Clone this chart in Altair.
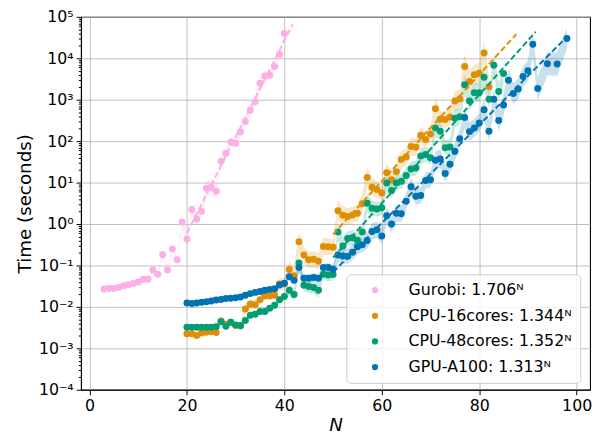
import altair as alt
import pandas as pd

# ---------------- data (times stored as log10 seconds) ----------------
labels = ["Gurobi: 1.706ᴺ", "CPU-16cores: 1.344ᴺ", "CPU-48cores: 1.352ᴺ", "GPU-A100: 1.313ᴺ"]
colors = ["#fbafe4", "#de8f05", "#029e73", "#0173b2"]

gurobi_n = list(range(3, 41))
gurobi_log_t = [-1.57, -1.556, -1.556, -1.532, -1.49, -1.468, -1.437, -1.397, -1.333, -1.333,
                -1.11, -1.21, -0.74, -1.11, -0.60, -0.865, 0.05, -0.365, 0.35, 0.12,
                0.31, 0.865, 0.89, 0.79, 1.516, 1.71, 1.98, 1.95, 2.22, 2.476,
                2.746, 2.95, 3.40, 3.57, 3.59, 3.80, 4.10, 4.60]
gurobi_band = [0.01, 0.01, 0.01, 0.01, 0.01, 0.01, 0.01, 0.01, 0.01, 0.01,
               0.05, 0.05, 0.08, 0.06, 0.10, 0.08, 0.15, 0.18, 0.15, 0.15,
               0.12, 0.20, 0.20, 0.18, 0.10, 0.12, 0.10, 0.10, 0.10, 0.10,
               0.10, 0.12, 0.15, 0.12, 0.10, 0.10, 0.08, 0.08]

cpu16_n = list(range(20, 83))
cpu16_log_t = [-2.65, -2.65, -2.69, -2.63, -2.61, -2.60, -2.62, -2.34, -2.42, -2.37,
               -2.45, -2.46, -2.05, -1.93, -1.95, -1.83, -1.73, -1.73, -1.72, -1.45,
               -1.45, -1.10, -1.25, -0.43, -0.75, -0.86, -0.85, -0.90, -0.54, -0.55,
               -0.56, 0.32, 0.21, 0.18, 0.22, 0.26, 0.49, 1.12, 0.89, 0.83,
               0.75, 1.24, 1.07, 1.26, 1.56, 1.62, 1.87, 1.85, 2.14, 2.04,
               2.17, 2.78, 2.53, 2.52, 2.58, 2.97, 3.02, 3.80, 3.44, 3.60,
               3.64, 4.13, 3.31]
cpu16_band = [0.04, 0.04, 0.05, 0.04, 0.04, 0.04, 0.05, 0.10, 0.08, 0.08,
              0.08, 0.08, 0.12, 0.10, 0.10, 0.10, 0.10, 0.10, 0.10, 0.15,
              0.15, 0.20, 0.20, 0.25, 0.20, 0.20, 0.20, 0.20, 0.20, 0.20,
              0.20, 0.25, 0.22, 0.20, 0.20, 0.20, 0.22, 0.25, 0.20, 0.20,
              0.18, 0.22, 0.20, 0.20, 0.22, 0.20, 0.22, 0.20, 0.22, 0.20,
              0.20, 0.25, 0.20, 0.20, 0.20, 0.25, 0.22, 0.30, 0.25, 0.25,
              0.25, 0.30, 0.25]

cpu48_n = list(range(20, 86))
cpu48_log_t = [-2.49, -2.49, -2.49, -2.49, -2.49, -2.49, -2.48, -2.36, -2.47, -2.37,
               -2.44, -2.45, -2.33, -2.20, -2.18, -2.11, -2.11, -2.03, -1.96, -1.83,
               -1.75, -1.60, -1.70, -0.94, -1.48, -1.51, -1.53, -1.60, -1.21, -1.23,
               -1.22, -0.19, -0.53, -0.35, -0.33, -0.39, -0.19, 0.50, 0.38, 0.36,
               0.39, 0.99, 0.81, 0.99, 1.03, 1.17, 1.33, 1.35, 1.64, 1.68,
               1.60, 2.32, 2.24, 1.84, 1.86, 2.55, 2.59, 3.36, 2.97, 3.17,
               3.17, 3.54, 3.01, 3.83, 3.20, 3.63]
cpu48_band = [0.03, 0.03, 0.03, 0.03, 0.03, 0.03, 0.03, 0.06, 0.06, 0.06,
              0.06, 0.06, 0.06, 0.06, 0.06, 0.06, 0.06, 0.06, 0.06, 0.08,
              0.08, 0.12, 0.15, 0.18, 0.15, 0.15, 0.15, 0.18, 0.15, 0.15,
              0.15, 0.20, 0.20, 0.18, 0.18, 0.18, 0.18, 0.22, 0.18, 0.18,
              0.18, 0.20, 0.18, 0.18, 0.18, 0.18, 0.18, 0.18, 0.20, 0.18,
              0.18, 0.22, 0.20, 0.18, 0.18, 0.22, 0.20, 0.25, 0.22, 0.22,
              0.22, 0.25, 0.22, 0.25, 0.22, 0.25]

gpu_n = list(range(20, 93)) + [94, 96, 98]
gpu_log_t = [-1.905, -1.92, -1.905, -1.89, -1.875, -1.86, -1.835, -1.82, -1.80, -1.79,
             -1.78, -1.76, -1.72, -1.68, -1.65, -1.63, -1.60, -1.58, -1.56, -1.47,
             -1.43, -1.27, -1.36, -1.05, -1.31, -1.31, -1.29, -1.31, -1.05, -1.05,
             -1.09, -0.75, -0.77, -0.78, -0.68, -0.55, -0.50, -0.40, -0.18, -0.14,
             -0.29, 0.20, 0.00, 0.26, 0.25, 0.55, 0.90, 0.67, 0.69, 1.05,
             1.07, 1.54, 1.57, 1.22, 1.44, 1.75, 2.06, 2.57, 2.23, 2.32,
             2.44, 2.76, 2.24, 3.01, 2.50, 2.87, 3.47, 3.15, 3.26, 3.56,
             3.70, 4.34, 3.27, 3.87, 3.86, 4.48]
gpu_band = [0.02, 0.02, 0.02, 0.02, 0.02, 0.02, 0.02, 0.02, 0.02, 0.02,
            0.02, 0.02, 0.02, 0.02, 0.02, 0.02, 0.02, 0.02, 0.03, 0.06,
            0.06, 0.10, 0.10, 0.12, 0.10, 0.10, 0.10, 0.10, 0.10, 0.10,
            0.10, 0.18, 0.18, 0.18, 0.18, 0.18, 0.18, 0.20, 0.20, 0.20,
            0.20, 0.20, 0.20, 0.20, 0.20, 0.20, 0.22, 0.20, 0.20, 0.20,
            0.20, 0.22, 0.22, 0.20, 0.20, 0.22, 0.22, 0.25, 0.22, 0.22,
            0.22, 0.25, 0.25, 0.25, 0.25, 0.25, 0.28, 0.25, 0.25, 0.25,
            0.25, 0.30, 0.28, 0.28, 0.28, 0.25]

# dashed exponential fits: end points (N, log10 seconds)
fit_n = [[20, 41.7], [50, 87.6], [50, 91.6], [50, 98]]
fit_log_t = [[-0.22, 4.82], [-0.25, 4.58], [-0.81, 4.64], [-1.16, 4.52]]

# ---------------- tables ----------------
series = [(gurobi_n, gurobi_log_t, gurobi_band),
          (cpu16_n, cpu16_log_t, cpu16_band),
          (cpu48_n, cpu48_log_t, cpu48_band),
          (gpu_n, gpu_log_t, gpu_band)]
rows = []
for lab, (ns, lt, bw) in zip(labels, series):
    for n, v, w in zip(ns, lt, bw):
        rows.append({"label": lab, "N": n, "t": 10 ** v, "lo": 10 ** (v - w), "hi": 10 ** (v + w)})
df = pd.DataFrame(rows)

frows = []
for lab, ns, lt in zip(labels, fit_n, fit_log_t):
    for n, v in zip(ns, lt):
        frows.append({"label": lab, "N": n, "t": 10 ** v})
fdf = pd.DataFrame(frows)

# ---------------- axes ----------------
FONT = "DejaVu Sans"
sup = {"-": "⁻", "0": "⁰", "1": "¹", "2": "²", "3": "³", "4": "⁴", "5": "⁵"}
exps = list(range(-4, 6))
major_ticks = [10.0 ** k for k in exps]
minor_ticks = [m * 10.0 ** k for k in range(-4, 5) for m in range(2, 10)]
is_major = "abs(log(datum.value)/LN10 - round(log(datum.value)/LN10)) < 0.001"
lab_expr = "''"
for k in reversed(exps):
    txt = "10" + "".join(sup[c] for c in str(k))
    lab_expr = f"(round(log(datum.value)/LN10) == {k}) ? '{txt}' : {lab_expr}"
lab_expr = f"({is_major}) ? ({lab_expr}) : ''"

xscale = alt.Scale(domain=[-1.75, 102.75], nice=False, zero=False)
yscale = alt.Scale(type="log", domain=[1e-4, 1e5], nice=False)

x_axis = alt.Axis(values=[0, 20, 40, 60, 80, 100], title="N", titleFontStyle="italic",
                  tickSize=5, labelPadding=3, titlePadding=2)
y_axis = alt.Axis(values=major_ticks + minor_ticks, labelExpr=lab_expr, title="Time (seconds)",
                  tickSize={"condition": {"test": is_major, "value": 5}, "value": 2.7},
                  gridOpacity={"condition": {"test": is_major, "value": 1}, "value": 0},
                  labelPadding=3, titlePadding=4)

col_scale = alt.Scale(domain=labels, range=colors)

band = alt.Chart(df).mark_area(opacity=0.22, interpolate="linear").encode(
    x=alt.X("N:Q", scale=xscale, axis=x_axis),
    y=alt.Y("lo:Q", scale=yscale, axis=y_axis),
    y2="hi:Q",
    color=alt.Color("label:N", scale=col_scale, legend=None),
)

pts = alt.Chart(df).mark_circle(size=50, opacity=1).encode(
    x=alt.X("N:Q", scale=xscale, axis=None),
    y=alt.Y("t:Q", scale=yscale, axis=None),
    color=alt.Color("label:N", scale=col_scale, legend=alt.Legend(
        orient="none", legendX=269, legendY=261, title=None,
        labelFontSize=16, labelFont=FONT, labelColor="black", labelLimit=400,
        symbolType="circle", symbolSize=40, symbolOffset=13, labelOffset=26,
        fillColor="rgba(255,255,255,0.8)", strokeColor="#cccccc", cornerRadius=4,
        padding=8, rowPadding=10)),
)

fit = alt.Chart(fdf).mark_line(strokeDash=[6, 3], strokeWidth=2).encode(
    x=alt.X("N:Q", scale=xscale, axis=None),
    y=alt.Y("t:Q", scale=yscale, axis=None),
    color=alt.Color("label:N", scale=col_scale, legend=None),
)

chart = alt.layer(band, pts, fit).resolve_axis(
    x="independent", y="independent"
).resolve_legend(color="independent").properties(
    width=516, height=378,
    padding={"left": 74, "top": 6, "right": 4, "bottom": 50},
    autosize=alt.AutoSizeParams(type="none"),
).configure_view(stroke="black", strokeWidth=1.1).configure_axis(
    labelFont=FONT, labelFontSize=16, labelColor="black",
    titleFont=FONT, titleFontSize=18.5, titleFontWeight="normal", titleColor="black",
    tickColor="black", tickWidth=1, domainColor="black", domainWidth=1.1,
    gridColor="#b0b0b0", gridWidth=0.8,
)

chart.save("out.html", embed_options={"renderer": "svg", "actions": False})
